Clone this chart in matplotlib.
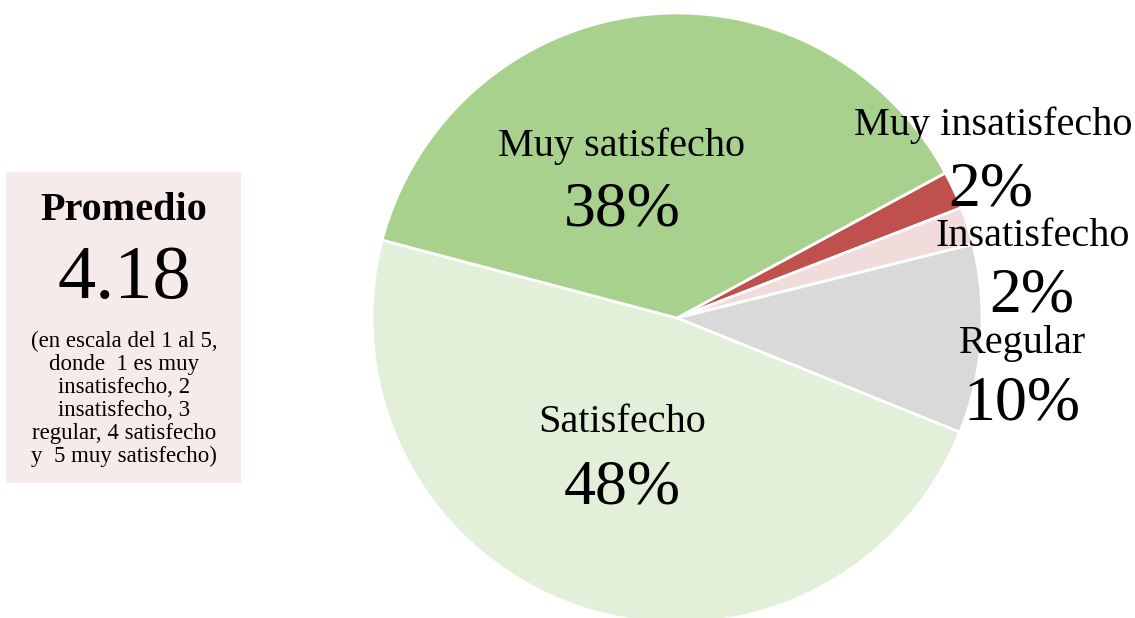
import matplotlib
matplotlib.use('Agg')
import matplotlib.pyplot as plt
from matplotlib.patches import Rectangle

categories = ['Muy insatisfecho', 'Insatisfecho', 'Regular', 'Satisfecho', 'Muy satisfecho']
percentages = [2, 2, 10, 48, 38]
colors = ['#c0504d', '#f2dcdb', '#d9d9d9', '#e2efd9', '#a9d18e']
promedio = '4.18'
nota = ('(en escala del 1 al 5,\ndonde  1 es muy\ninsatisfecho, 2\n'
        'insatisfecho, 3\nregular, 4 satisfecho\ny  5 muy satisfecho)')

W, H = 1135, 618
plt.rcParams['font.family'] = ['Liberation Serif', 'DejaVu Serif']

fig = plt.figure(figsize=(W / 100, H / 100), dpi=100)

# pie position in pixels
cx, cy, r = 677, 318, 305
ax = fig.add_axes([(cx - r) / W, (H - cy - r) / H, 2 * r / W, 2 * r / H])
ax.pie(percentages, colors=colors, startangle=28.4, counterclock=False,
       wedgeprops=dict(edgecolor='white', linewidth=2))
ax.set_xlim(-1, 1)
ax.set_ylim(-1, 1)
ax.set_aspect('equal')
ax.axis('off')


def px(x, y):
    return (x - cx) / r, (cy - y) / r


# label positions (pixels) for each slice: name, pct
label_pos = [((993, 125), (991, 190)),
             ((1033, 236), (1032, 297)),
             ((1022, 344), (1022, 405)),
             ((622, 423), (622, 488)),
             ((622, 146), (622, 210))]

for cat, pct, (lp, pp) in zip(categories, percentages, label_pos):
    ax.text(*px(*lp), cat, ha='center', va='center', fontsize=29, clip_on=False)
    ax.text(*px(*pp), f'{pct}%', ha='center', va='center', fontsize=46, clip_on=False)

# left box
fig.patches.append(Rectangle((6 / W, 1 - 483 / H), 235 / W, 311 / H,
                             transform=fig.transFigure, facecolor='#f7eaea',
                             edgecolor='none', zorder=0))
fig.text(124 / W, 1 - 211 / H, 'Promedio', ha='center', va='center',
         fontsize=29, fontweight='bold')
fig.text(124 / W, 1 - 280 / H, promedio, ha='center', va='center', fontsize=55)
fig.text(124 / W, 1 - 399 / H, nota, ha='center', va='center', fontsize=16.5,
         linespacing=1.13)

fig.savefig('out.png', dpi=100)
